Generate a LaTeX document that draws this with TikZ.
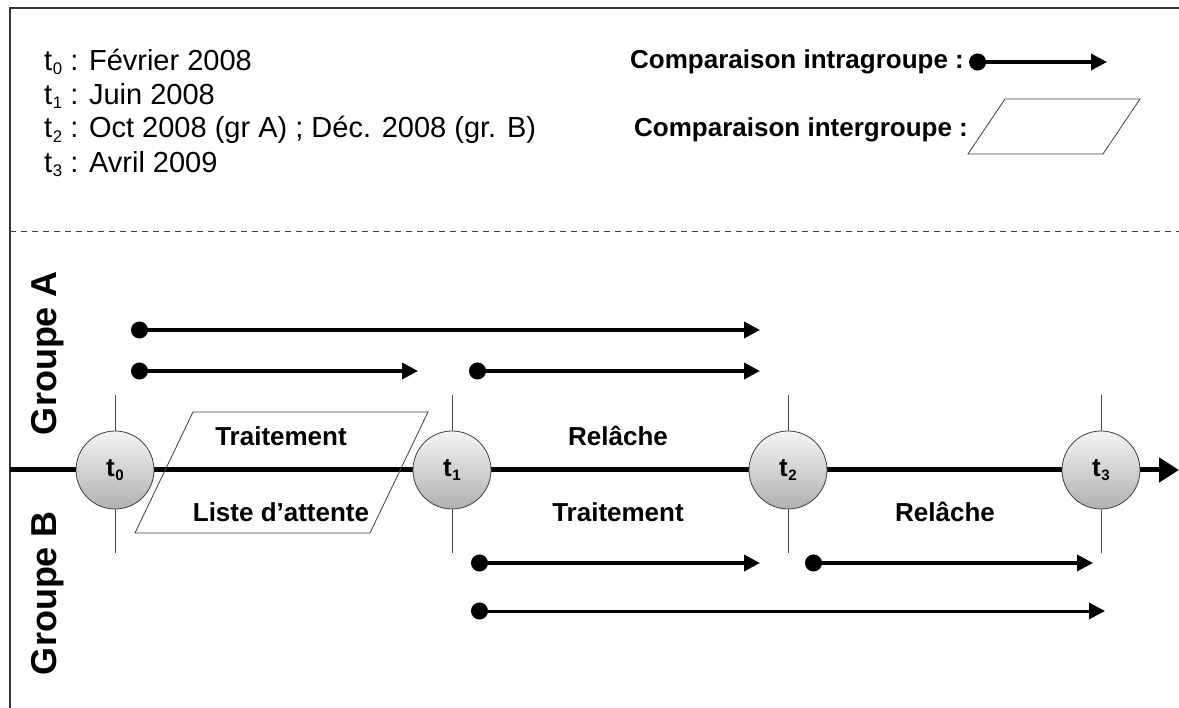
\documentclass[tikz,border=0pt]{standalone}
\usepackage{fontspec}
\setmainfont{Liberation Sans}
\usetikzlibrary{arrows.meta,calc,positioning}
\newcommand{\tsub}[1]{t\kern0.6pt\raisebox{-0.3ex}{\scalebox{0.58}{#1}}}

\begin{document}
\begin{tikzpicture}[x=1pt,y=-1pt, every node/.style={inner sep=0pt},
  temps/.style={circle,minimum size=78pt,draw=black!75,line width=0.8pt,
                top color=gray!8,bottom color=gray!62,
                font=\bfseries\fontsize{26}{28}\selectfont},
  etiq/.style={font=\bfseries\fontsize{26}{30}\selectfont},
  datel/.style={anchor=west,font=\fontsize{29}{32}\selectfont},
  leg/.style={anchor=west,font=\bfseries\fontsize{26}{30}\selectfont},
  groupe/.style={rotate=90,font=\bfseries\fontsize{36}{40}\selectfont},
  intra/.style={{Circle[length=17pt]}-{Triangle[length=16pt,width=16pt]},line width=3.5pt},
  repere/.style={draw=black!75,line width=0.8pt},
  cadre/.style={line width=1.2pt,black!80}]
\useasboundingbox (0,0) rectangle (1179,708);
% cadre et separation
\draw[cadre] (10,708) -- (10,8) -- (1179,8);
\draw[black!75,line width=0.8pt,dash pattern=on 6pt off 5pt] (10,231) -- (1179,231);
% dates
\node[datel] (d0) at (44,62) {\tsub{0} : Février 2008};
\node[datel] (d1) at (44,96) {\tsub{1} : Juin 2008};
\node[datel] (d2) at (44,130) {\tsub{2} : Oct 2008 (gr A) ; Déc. 2008 (gr. B)};
\node[datel] (d3) at (44,164) {\tsub{3} : Avril 2009};
% legende
\node[leg] (intraleg) at (630,62) {Comparaison intragroupe :};
\coordinate (li1) at ($(intraleg.east)+(5,0)$);
\coordinate (li2) at (1107,62);
\draw[intra] (li1) -- (li2);
\node[leg] (interleg) at (634,130) {Comparaison intergroupe :};
\draw[repere] (968,154) -- (1005,99) -- (1140,99) -- (1103,154) -- cycle;
% groupes
\node[groupe] (grA) at (48,353) {Groupe A};
\node[groupe] (grB) at (48,593) {Groupe B};
% axe du temps
\foreach \n/\x in {0/115,1/452,2/788,3/1101} {
  \coordinate (c\n) at (\x,470);
  \draw[black!70,line width=0.8pt] ($(c\n)+(0,-75)$) -- ($(c\n)+(0,83)$);
}
\coordinate (debut) at (10,470);
\coordinate (fin) at (1179,470);
\draw[line width=5pt,-{Triangle[length=20pt,width=24pt]}] (debut) -- (fin);
% comparaison intergroupe t0-t1
\draw[repere] (193,412) -- (428,412) -- (370,533) -- (135,533) -- cycle;
\foreach \n in {0,1,2,3} \node[temps] (t\n) at (c\n) {\tsub{\n}};
% periodes
\node[etiq] (traitA) at (281,436) {Traitement};
\node[etiq] (attB) at (281,512) {Liste d’attente};
\node[etiq] (relA) at (618,436) {Relâche};
\node[etiq] (traitB) at (618,512) {Traitement};
\node[etiq] (relB) at (945,512) {Relâche};
% comparaisons intragroupe
\coordinate (a1) at (131,330); \coordinate (a2) at (760,330);
\coordinate (a3) at (131,371); \coordinate (a4) at (418,371);
\coordinate (a5) at (469,371); \coordinate (a6) at (760,371);
\coordinate (b1) at (471,563); \coordinate (b2) at (760,563);
\coordinate (b3) at (805,563); \coordinate (b4) at (1093,563);
\coordinate (b5) at (471,611); \coordinate (b6) at (1105,611);
\foreach \s/\e in {a1/a2, a3/a4, a5/a6, b1/b2, b3/b4} \draw[intra] (\s) -- (\e);
\draw[intra,line width=3pt] (b5) -- (b6);
\end{tikzpicture}
\end{document}
